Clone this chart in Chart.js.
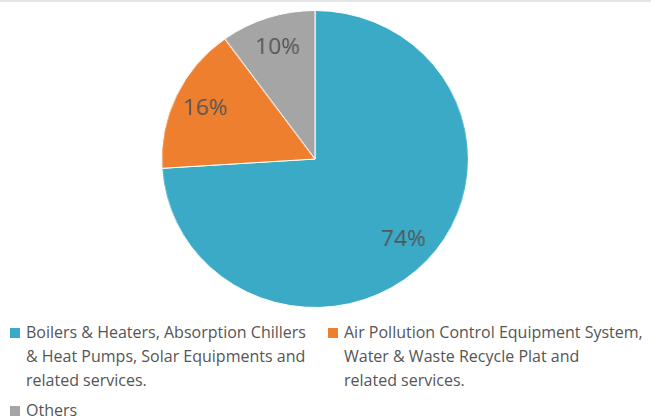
<!DOCTYPE html>
<html>
<head>
<meta charset="utf-8">
<script src="https://cdn.jsdelivr.net/npm/chart.js@4.4.0/dist/chart.umd.min.js"></script>
<style>
  html, body { margin: 0; padding: 0; background: #fff; }
  body { width: 651px; height: 419px; position: relative; overflow: hidden; border-top: 2px solid #e6e6e6; box-sizing: border-box; }
  #wrap { position: absolute; left: 0; top: -2px; width: 630px; height: 316px; transform: scaleX(1.033); transform-origin: 315px 0; }
  #legend { position: absolute; left: 10px; top: 316px; width: 641px; font-family: "Open Sans", sans-serif; font-size: 16px; color: #555; line-height: 24px; }
  .item { position: absolute; display: flex; align-items: flex-start; white-space: nowrap; }
  .box { width: 10px; height: 10px; margin-top: 8px; margin-right: 6px; flex: none; }
</style>
</head>
<body>
<div id="wrap"><canvas id="chart-pie"></canvas></div>
<div id="legend"></div>
<script>
const categories = [
  ["Boilers & Heaters, Absorption Chillers", "& Heat Pumps, Solar Equipments and", "related services."],
  ["Air Pollution Control Equipment System,", "Water & Waste Recycle Plat and", "related services."],
  ["Others"]
];
const shares = [74, 16, 10];
const colors = ["#3aaac6", "#ee7f2f", "#a5a5a5"];

// legend slots: left, top
const legendSlots = [
  { left: 0, top: 2 },
  { left: 318, top: 2 },
  { left: 0, top: 80 }
];

const labelPlugin = {
  id: "sliceLabels",
  afterDatasetsDraw(chart) {
    const ctx = chart.ctx;
    const meta = chart.getDatasetMeta(0);
    ctx.save();
    ctx.font = "22px 'Open Sans', sans-serif";
    ctx.fillStyle = "#555";
    ctx.textAlign = "center";
    ctx.textBaseline = "middle";
    meta.data.forEach((arc, i) => {
      const p = arc.getProps(["x", "y", "startAngle", "endAngle", "outerRadius"], true);
      const mid = (p.startAngle + p.endAngle) / 2;
      const r = p.outerRadius * 0.79;
      ctx.fillText(shares[i] + "%", p.x + Math.cos(mid) * r, p.y + Math.sin(mid) * r);
    });
    ctx.restore();
  }
};

new Chart(document.getElementById("chart-pie").getContext("2d"), {
  type: "pie",
  data: {
    labels: categories,
    datasets: [
      { data: shares, backgroundColor: colors, borderColor: "#fff", borderWidth: 1 }
    ]
  },
  options: {
    responsive: true,
    maintainAspectRatio: false,
    animation: false,
    layout: { padding: { top: 10, bottom: 8 } },
    plugins: { legend: { display: false }, tooltip: { enabled: false } }
  },
  plugins: [labelPlugin]
});

const legend = document.getElementById("legend");
categories.forEach((lines, i) => {
  const slot = legendSlots[i];
  const item = document.createElement("div");
  item.className = "item";
  item.style.left = slot.left + "px";
  item.style.top = slot.top + "px";
  item.innerHTML = '<span class="box" style="background:' + colors[i] + '"></span>' +
    '<span>' + lines.join("<br>").replace(/& /g, "&amp; ") + '</span>';
  legend.appendChild(item);
});
</script>
</body>
</html>
